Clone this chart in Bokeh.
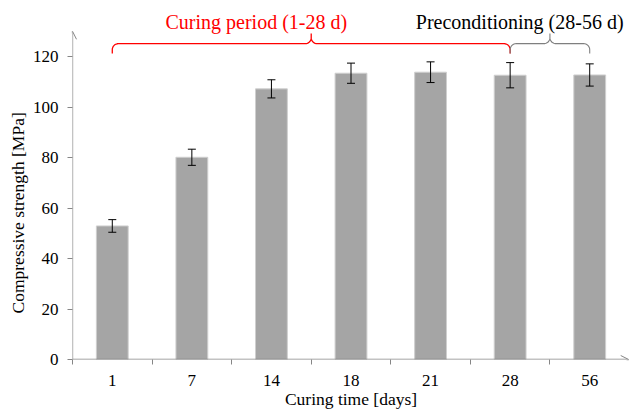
import numpy as np
from bokeh.plotting import figure
from bokeh.models import (ColumnDataSource, Range1d, FixedTicker, Whisker, TeeHead,
                          Arrow, OpenHead, Title)
from bokeh.core.properties import value
from bokeh.embed import file_html
from bokeh.resources import INLINE

# ---- data ----
categories = ["1", "7", "14", "18", "21", "28", "56"]
strength = [52.9, 80.1, 107.2, 113.4, 113.8, 112.6, 112.7]
error = [2.5, 3.2, 3.6, 4.0, 4.1, 5.0, 4.4]
y_ticks = [0, 20, 40, 60, 80, 100, 120]
curing_label = "Curing period (1-28 d)"
precond_label = "Preconditioning (28-56 d)"

FONT = "Liberation Serif"
AXIS_GREY = "#868686"

pos = [i + 0.5 for i in range(len(categories))]
src = ColumnDataSource(dict(
    x=pos, top=strength,
    upper=[v + e for v, e in zip(strength, error)],
    lower=[v - e for v, e in zip(strength, error)],
))

X_END = 7.0
p = figure(width=629, height=412, output_backend="svg", toolbar_location=None,
           x_range=Range1d(0, X_END), y_range=Range1d(0, 142.2),
           min_border_left=72, min_border_right=0, min_border_top=0, min_border_bottom=53)
p.outline_line_color = None
p.xgrid.grid_line_color = None
p.ygrid.grid_line_color = None

p.vbar(x="x", top="top", width=0.4, source=src,
       fill_color="#a5a5a5", line_color="#cfcfcf", line_width=1)

p.add_layout(Whisker(base="x", upper="upper", lower="lower", source=src, level="annotation",
                     line_color="black", line_width=1,
                     upper_head=TeeHead(size=8, line_color="black", line_width=1),
                     lower_head=TeeHead(size=8, line_color="black", line_width=1)))

# axes
xa = p.xaxis[0]
xa.ticker = FixedTicker(ticks=pos, minor_ticks=list(range(len(categories))))
xa.major_label_overrides = {pv: c for pv, c in zip(pos, categories)}
xa.major_tick_out = 0
xa.major_tick_in = 0
xa.minor_tick_out = 5
xa.minor_tick_in = 0
xa.minor_tick_line_color = AXIS_GREY
xa.axis_line_color = None
xa.major_label_text_font = FONT
xa.major_label_text_font_size = "17px"
xa.major_label_text_color = "black"
xa.major_label_standoff = 10
xa.axis_label = "Curing time [days]"
xa.axis_label_text_font = FONT
xa.axis_label_text_font_size = "17.5px"
xa.axis_label_text_font_style = "normal"
xa.axis_label_text_color = "black"
xa.axis_label_standoff = 0

ya = p.yaxis[0]
ya.ticker = FixedTicker(ticks=y_ticks, minor_ticks=[])
ya.major_tick_out = 5
ya.major_tick_in = 0
ya.major_tick_line_color = AXIS_GREY
ya.axis_line_color = None
ya.major_label_text_font = FONT
ya.major_label_text_font_size = "17px"
ya.major_label_text_color = "black"
ya.major_label_standoff = 9

p.add_layout(Title(text="Compressive strength [MPa]", align="left", offset=46,
                   text_font=FONT, text_font_size="17.5px", text_color="black",
                   text_font_style="normal", standoff=3), "left")

# axis lines with open arrow heads
p.add_layout(Arrow(x_start=0, y_start=0, x_end=X_END - 0.01, y_end=0, line_color=AXIS_GREY,
                   line_width=1.3,
                   end=OpenHead(size=8, line_color=AXIS_GREY, line_width=1)))
p.add_layout(Arrow(x_start=0, y_start=0, x_end=0, y_end=130, line_color=AXIS_GREY,
                   line_width=1.3,
                   end=OpenHead(size=8, line_color=AXIS_GREY, line_width=1)))


def brace(xa_, xb_, y_end, y_mid, y_peak, rx, ry, n=10):
    xm = (xa_ + xb_) / 2
    xs, ys = [xa_], [y_end]
    t = np.linspace(np.pi, np.pi / 2, n)
    xs += list(xa_ + rx + rx * np.cos(t)); ys += list(y_mid - ry + ry * np.sin(t))
    t = np.linspace(-np.pi / 2, 0, n)
    xs += list(xm - rx + rx * np.cos(t)); ys += list(y_mid + ry + ry * np.sin(t))
    xs += [xm]; ys += [y_peak]
    t = np.linspace(np.pi, 3 * np.pi / 2, n)
    xs += list(xm + rx + rx * np.cos(t)); ys += list(y_mid + ry + ry * np.sin(t))
    t = np.linspace(np.pi / 2, 0, n)
    xs += list(xb_ - rx + rx * np.cos(t)); ys += list(y_mid - ry + ry * np.sin(t))
    xs += [xb_]; ys += [y_end]
    return xs, ys


rx, ry = 0.075, 2.4
bx, by = brace(pos[0], pos[5], 121.2, 125.1, 129.1, rx, ry)
p.line(bx, by, line_color="red", line_width=1.3)
gx, gy = brace(pos[5], pos[6], 121.2, 125.1, 129.1, rx, ry)
p.line(gx, gy, line_color="#7f7f7f", line_width=1.1)

p.text(x=[2.31], y=[133.5], text=[curing_label], text_font=value(FONT),
       text_font_size="20px", text_color="red", text_align="center",
       text_baseline="middle")
p.text(x=[5.62], y=[133.5], text=[precond_label], text_font=value(FONT),
       text_font_size="20px", text_color="black", text_align="center",
       text_baseline="middle")

open("out.html", "w").write(file_html(p, INLINE))
